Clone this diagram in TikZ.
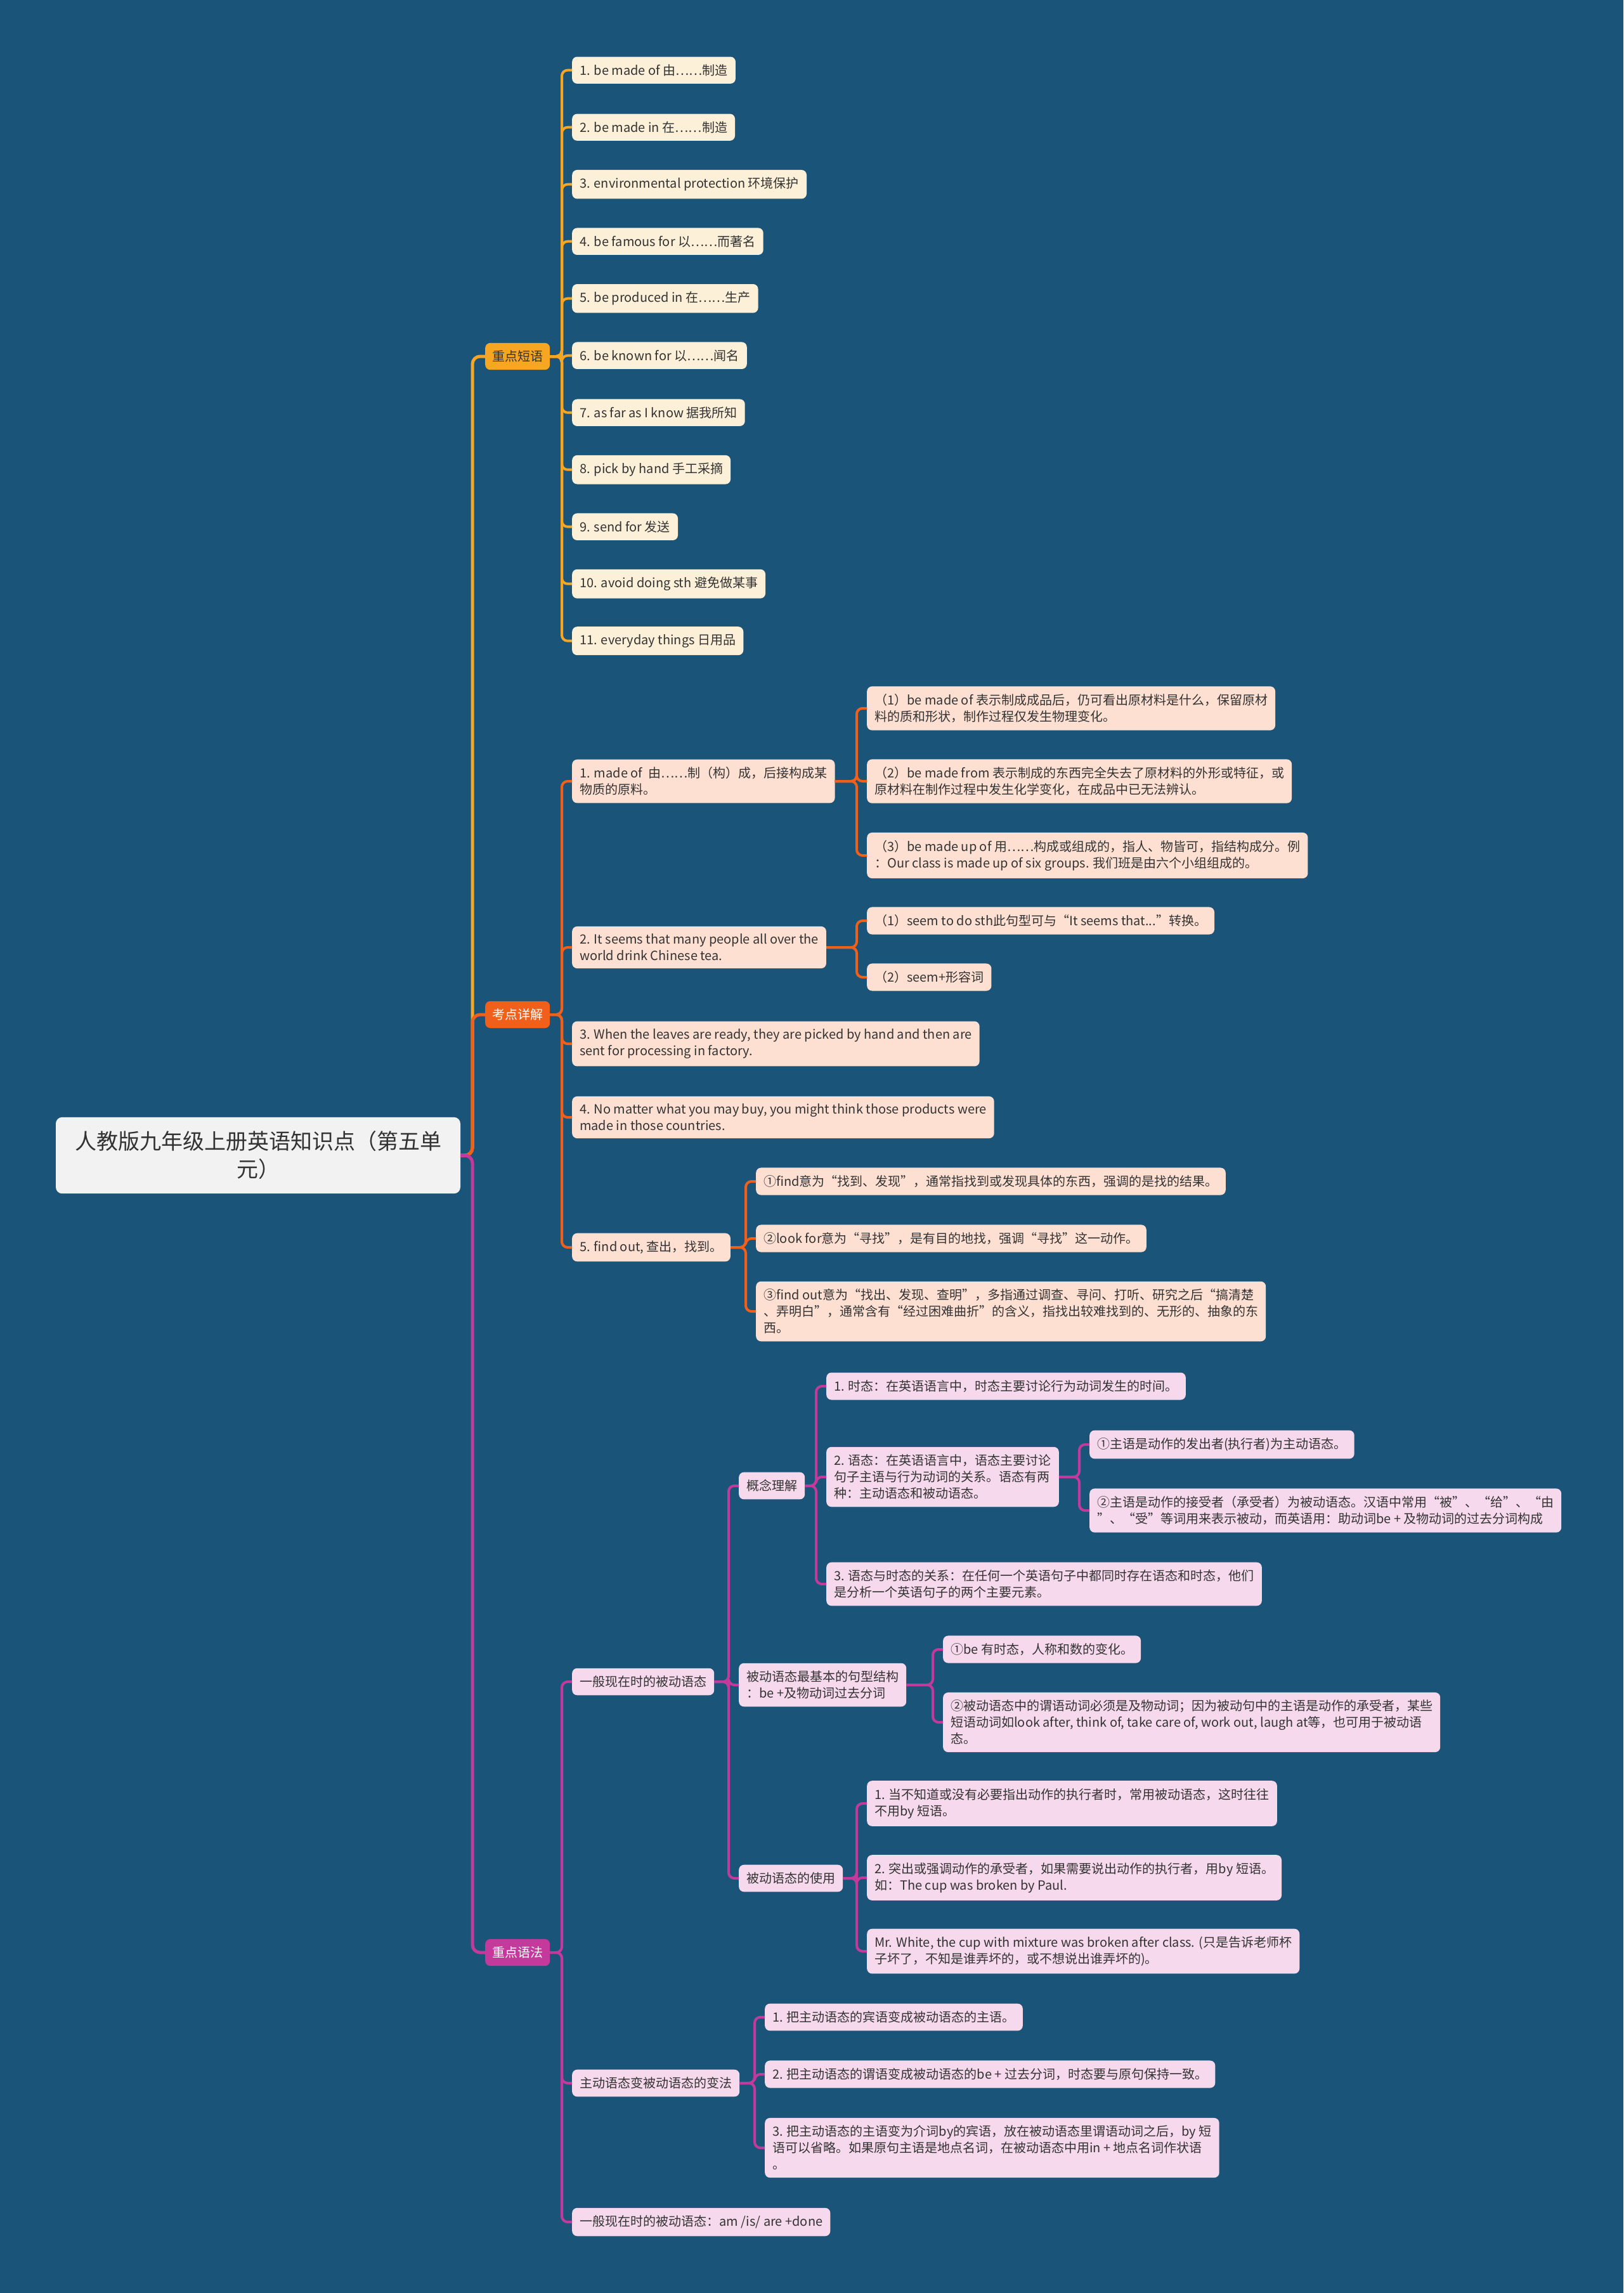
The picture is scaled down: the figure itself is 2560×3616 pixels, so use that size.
\documentclass[tikz,border=0pt]{standalone}
\usepackage{fontspec}
\setmainfont{Noto Sans CJK SC}
\usetikzlibrary{positioning}
\definecolor{cbg}{HTML}{1B5479}
\definecolor{cyellow}{HTML}{F6A623}
\definecolor{corange}{HTML}{F1601A}
\definecolor{cmagenta}{HTML}{C4399C}
\definecolor{lyellow}{HTML}{FDF0D8}
\definecolor{lorange}{HTML}{FDE0D2}
\definecolor{lpink}{HTML}{F6D9EC}
\definecolor{croot}{HTML}{F2F2F2}
\definecolor{ctext}{HTML}{333333}
\tikzset{
  leaf/.style={fill=#1, rounded corners=8pt, anchor=west, align=left, inner xsep=12pt, inner ysep=12pt,
    text=ctext, font=\fontsize{20}{26}\selectfont},
  leaf/.default=lyellow,
  cat/.style={fill=#1, rounded corners=8pt, anchor=west, inner xsep=11pt, inner ysep=12pt,
    font=\fontsize{20}{26}\selectfont},
  rootbox/.style={fill=croot, rounded corners=10pt, align=center, text width=600pt, inner xsep=19pt,
    inner ysep=22pt, text=ctext, font=\fontsize{34}{44}\selectfont},
  link/.style={draw=#1, line width=4pt, rounded corners=9pt},
  trunk/.style={draw=#1, line width=5pt, rounded corners=12pt},
}

\begin{document}
\begin{tikzpicture}[x=1pt, y=-1pt]
  \useasboundingbox (0,0) rectangle (2560,3616);
  \fill[cbg] (0,0) rectangle (2560,3616);

  % root and the three main branches
  \node[rootbox] (root) at (407,1822) {人教版九年级上册英语知识点（第五单\\元）};
  \node[cat=cyellow, text=ctext] (phrase) at (765,562) {重点短语};
  \node[cat=corange, text=white] (detail) at (765,1600) {考点详解};
  \node[cat=cmagenta, text=white] (grammar) at (765,3079) {重点语法};
  \draw[trunk=cyellow] (root.east) -| ([xshift=-20pt]phrase.west) -- (phrase.west);
  \draw[trunk=corange] (root.east) -| ([xshift=-20pt]detail.west) -- (detail.west);
  \draw[trunk=cmagenta] (root.east) -| ([xshift=-20pt]grammar.west) -- (grammar.west);

  % 重点短语
  \foreach \txt [count=\i] in {1. be made of 由……制造, 2. be made in 在……制造,
      3. environmental protection 环境保护, 4. be famous for 以……而著名,
      5. be produced in 在……生产, 6. be known for 以……闻名, 7. as far as I know 据我所知,
      8. pick by hand 手工采摘, 9. send for 发送, 10. avoid doing sth 避免做某事,
      11. everyday things 日用品} {
    \node[leaf=lyellow] (p\i) at (902,{110.7+90*(\i-1)}) {\txt};
    \draw[link=cyellow] (phrase.east) -| ([xshift=-16pt]p\i.west) -- (p\i.west);
  }

  % 考点详解
  \node[leaf=lorange] (d1) at (902,1232) {1. made of \ 由……制（构）成，后接构成某\\物质的原料。};
  \node[leaf=lorange] (d2) at (902,1494) {2. It seems that many people all over the\\world drink Chinese tea.};
  \node[leaf=lorange] (d3) at (902,1646) {3. When the leaves are ready, they are picked by hand and then are\\sent for processing in factory.};
  \node[leaf=lorange] (d4) at (902,1762) {4. No matter what you may buy, you might think those products were\\made in those countries.};
  \node[leaf=lorange] (d5) at (902,1967) {5. find out, 查出，找到。};
  \node[leaf=lorange] (d1a) at (1367,1117) {（1）be made of 表示制成成品后，仍可看出原材料是什么，保留原材\\料的质和形状，制作过程仅发生物理变化。};
  \node[leaf=lorange] (d1b) at (1367,1232) {（2）be made from 表示制成的东西完全失去了原材料的外形或特征，或\\原材料在制作过程中发生化学变化，在成品中已无法辨认。};
  \node[leaf=lorange] (d1c) at (1367,1349) {（3）be made up of 用……构成或组成的，指人、物皆可，指结构成分。例\\：Our class is made up of six groups. 我们班是由六个小组组成的。};
  \node[leaf=lorange] (d2a) at (1367,1452) {（1）seem to do sth此句型可与“It seems that...”转换。};
  \node[leaf=lorange] (d2b) at (1367,1541) {（2）seem+形容词};
  \node[leaf=lorange] (d5a) at (1192,1863) {①find意为“找到、发现”，通常指找到或发现具体的东西，强调的是找的结果。};
  \node[leaf=lorange] (d5b) at (1192,1953) {②look for意为“寻找”，是有目的地找，强调“寻找”这一动作。};
  \node[leaf=lorange] (d5c) at (1192,2068) {③find out意为“找出、发现、查明”，多指通过调查、寻问、打听、研究之后“搞清楚\\、弄明白”，通常含有“经过困难曲折”的含义，指找出较难找到的、无形的、抽象的东\\西。};
  \foreach \c in {d1,d2,d3,d4,d5}
    \draw[link=corange] (detail.east) -| ([xshift=-16pt]\c.west) -- (\c.west);
  \foreach \c in {d1a,d1b,d1c}
    \draw[link=corange] (d1.east) -| ([xshift=-16pt]\c.west) -- (\c.west);
  \foreach \c in {d2a,d2b}
    \draw[link=corange] (d2.east) -| ([xshift=-16pt]\c.west) -- (\c.west);
  \foreach \c in {d5a,d5b,d5c}
    \draw[link=corange] (d5.east) -| ([xshift=-16pt]\c.west) -- (\c.west);

  % 重点语法
  \node[leaf=lpink] (g1) at (902,2652) {一般现在时的被动语态};
  \node[leaf=lpink] (g2) at (902,3285) {主动语态变被动语态的变法};
  \node[leaf=lpink] (g3) at (902,3504) {一般现在时的被动语态：am /is/ are +done};
  \node[leaf=lpink] (g1a) at (1165,2343) {概念理解};
  \node[leaf=lpink] (g1b) at (1165,2657) {被动语态最基本的句型结构\\：be +及物动词过去分词};
  \node[leaf=lpink] (g1c) at (1165,2962) {被动语态的使用};
  \node[leaf=lpink] (g1a1) at (1303,2186) {1. 时态：在英语语言中，时态主要讨论行为动词发生的时间。};
  \node[leaf=lpink] (g1a2) at (1303,2329) {2. 语态：在英语语言中，语态主要讨论\\句子主语与行为动词的关系。语态有两\\种：主动语态和被动语态。};
  \node[leaf=lpink] (g1a3) at (1303,2498) {3. 语态与时态的关系：在任何一个英语句子中都同时存在语态和时态，他们\\是分析一个英语句子的两个主要元素。};
  \node[leaf=lpink] (g1a2a) at (1718,2278) {①主语是动作的发出者(执行者)为主动语态。};
  \node[leaf=lpink] (g1a2b) at (1718,2382) {②主语是动作的接受者（承受者）为被动语态。汉语中常用“被”、“给”、“由\\”、“受”等词用来表示被动，而英语用：助动词be + 及物动词的过去分词构成};
  \node[leaf=lpink] (g1b1) at (1487,2601) {①be 有时态，人称和数的变化。};
  \node[leaf=lpink] (g1b2) at (1487,2716) {②被动语态中的谓语动词必须是及物动词；因为被动句中的主语是动作的承受者，某些\\短语动词如look after, think of, take care of, work out, laugh at等，也可用于被动语\\态。};
  \node[leaf=lpink] (g1c1) at (1367,2844) {1. 当不知道或没有必要指出动作的执行者时，常用被动语态，这时往往\\不用by 短语。};
  \node[leaf=lpink] (g1c2) at (1367,2961) {2. 突出或强调动作的承受者，如果需要说出动作的执行者，用by 短语。\\如：The cup was broken by Paul.};
  \node[leaf=lpink] (g1c3) at (1367,3077) {Mr. White, the cup with mixture was broken after class. (只是告诉老师杯\\子坏了，不知是谁弄坏的，或不想说出谁弄坏的)。};
  \node[leaf=lpink] (g2a) at (1206,3181) {1. 把主动语态的宾语变成被动语态的主语。};
  \node[leaf=lpink] (g2b) at (1206,3271) {2. 把主动语态的谓语变成被动语态的be + 过去分词，时态要与原句保持一致。};
  \node[leaf=lpink] (g2c) at (1206,3387) {3. 把主动语态的主语变为介词by的宾语，放在被动语态里谓语动词之后，by 短\\语可以省略。如果原句主语是地点名词，在被动语态中用in + 地点名词作状语\\。};
  \foreach \c in {g1,g2,g3}
    \draw[link=cmagenta] (grammar.east) -| ([xshift=-16pt]\c.west) -- (\c.west);
  \foreach \c in {g1a,g1b,g1c}
    \draw[link=cmagenta] (g1.east) -| ([xshift=-16pt]\c.west) -- (\c.west);
  \foreach \c in {g1a1,g1a2,g1a3}
    \draw[link=cmagenta] (g1a.east) -| ([xshift=-16pt]\c.west) -- (\c.west);
  \foreach \c in {g1a2a,g1a2b}
    \draw[link=cmagenta] (g1a2.east) -| ([xshift=-16pt]\c.west) -- (\c.west);
  \foreach \c in {g1b1,g1b2}
    \draw[link=cmagenta] (g1b.east) -| ([xshift=-16pt]\c.west) -- (\c.west);
  \foreach \c in {g1c1,g1c2,g1c3}
    \draw[link=cmagenta] (g1c.east) -| ([xshift=-16pt]\c.west) -- (\c.west);
  \foreach \c in {g2a,g2b,g2c}
    \draw[link=cmagenta] (g2.east) -| ([xshift=-16pt]\c.west) -- (\c.west);
\end{tikzpicture}
\end{document}
